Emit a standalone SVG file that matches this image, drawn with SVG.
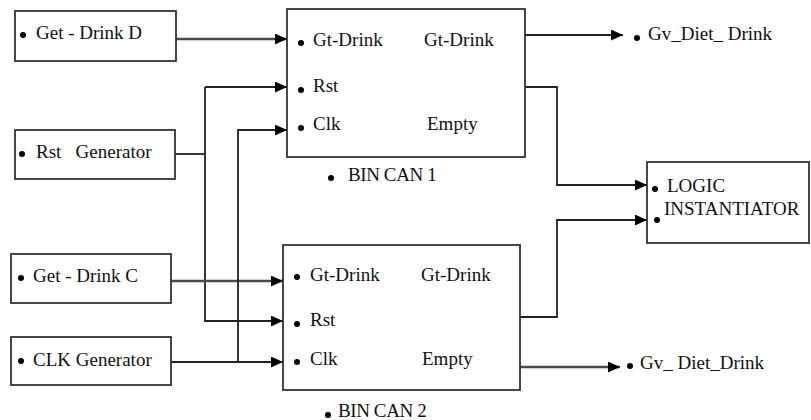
<svg xmlns="http://www.w3.org/2000/svg" width="811" height="420" viewBox="0 0 811 420">
<style>
.box{fill:#fff;stroke:#333;stroke-width:1.8}
.t{font-family:"Liberation Serif","Times New Roman","DejaVu Serif",serif;font-size:19px;fill:#111}
.w{fill:none;stroke:#222;stroke-width:1.8}
.g{fill:none;stroke:#4a4a4a;stroke-width:2.4}
.d{fill:#000}
</style>
<defs>
<marker id="a" markerUnits="userSpaceOnUse" markerWidth="13" markerHeight="11" refX="12" refY="5.5" orient="auto">
<path d="M0,0 L12,5.5 L0,11 z" fill="#000"/>
</marker>
</defs>
<rect width="811" height="420" fill="#fff"/>
<g id="connectors">
<path class="g" d="M176,39 H287" marker-end="url(#a)"/>
<path class="w" d="M175,154 H205"/>
<path class="w" d="M205,87 H287" marker-end="url(#a)"/>
<path class="w" d="M205,87 V321 H283" marker-end="url(#a)"/>
<path class="g" d="M171,281 H283" marker-end="url(#a)"/>
<path class="w" d="M171,362 H283" marker-end="url(#a)"/>
<path class="w" d="M238,362 V130 H287" marker-end="url(#a)"/>
<path class="w" d="M525,35 H623" marker-end="url(#a)"/>
<path class="w" d="M523,87 H557 V185 H647" marker-end="url(#a)"/>
<path class="w" d="M520,317 H557 V220 H647" marker-end="url(#a)"/>
<path class="g" d="M520,367 H620" marker-end="url(#a)"/>
</g>
<g id="get-drink-d">
<rect class="box" x="15" y="11" width="161" height="50"/>
<circle class="d" cx="23" cy="35" r="3"/>
<text class="t" x="36" y="39">Get - Drink D</text>
</g>
<g id="rst-generator">
<rect class="box" x="15" y="130" width="160" height="49"/>
<circle class="d" cx="22" cy="154" r="3"/>
<text class="t" x="36" y="158" xml:space="preserve">Rst   Generator</text>
</g>
<g id="get-drink-c">
<rect class="box" x="11" y="254" width="160" height="49"/>
<circle class="d" cx="21" cy="278" r="3"/>
<text class="t" x="33" y="282">Get - Drink C</text>
</g>
<g id="clk-generator">
<rect class="box" x="11" y="337" width="160" height="48"/>
<circle class="d" cx="21" cy="361" r="3"/>
<text class="t" x="33" y="366">CLK Generator</text>
</g>
<g id="bin-can-1">
<rect class="box" x="287" y="9" width="238" height="148"/>
<circle class="d" cx="301" cy="43" r="3"/>
<text class="t" x="313" y="46">Gt-Drink</text>
<text class="t" x="424" y="46">Gt-Drink</text>
<circle class="d" cx="301" cy="90" r="3"/>
<text class="t" x="313" y="92">Rst</text>
<circle class="d" cx="301" cy="128" r="3"/>
<text class="t" x="313" y="130">Clk</text>
<text class="t" x="427" y="130">Empty</text>
<circle class="d" cx="331" cy="178" r="3"/>
<text class="t" x="348" y="181" letter-spacing="-0.4">BIN CAN 1</text>
</g>
<g id="bin-can-2">
<rect class="box" x="283" y="245" width="237" height="145"/>
<circle class="d" cx="297" cy="277" r="3"/>
<text class="t" x="310" y="281">Gt-Drink</text>
<text class="t" x="421" y="281">Gt-Drink</text>
<circle class="d" cx="297" cy="324" r="3"/>
<text class="t" x="310" y="326">Rst</text>
<circle class="d" cx="297" cy="362" r="3"/>
<text class="t" x="310" y="365">Clk</text>
<text class="t" x="422" y="365">Empty</text>
<circle class="d" cx="328" cy="415" r="3"/>
<text class="t" x="338" y="417" letter-spacing="-0.4">BIN CAN 2</text>
</g>
<g id="gv-diet-drink-1">
<circle class="d" cx="637" cy="38" r="3"/>
<text class="t" x="648" y="40">Gv_Diet_ Drink</text>
</g>
<g id="gv-diet-drink-2">
<circle class="d" cx="630" cy="366" r="3"/>
<text class="t" x="640" y="369">Gv_ Diet_Drink</text>
</g>
<g id="logic-instantiator">
<rect class="box" x="647" y="162" width="162" height="81"/>
<circle class="d" cx="655" cy="189" r="3"/>
<text class="t" x="667" y="192">LOGIC</text>
<circle class="d" cx="657" cy="220" r="3"/>
<text class="t" x="664" y="215">INSTANTIATOR</text>
</g>
</svg>
